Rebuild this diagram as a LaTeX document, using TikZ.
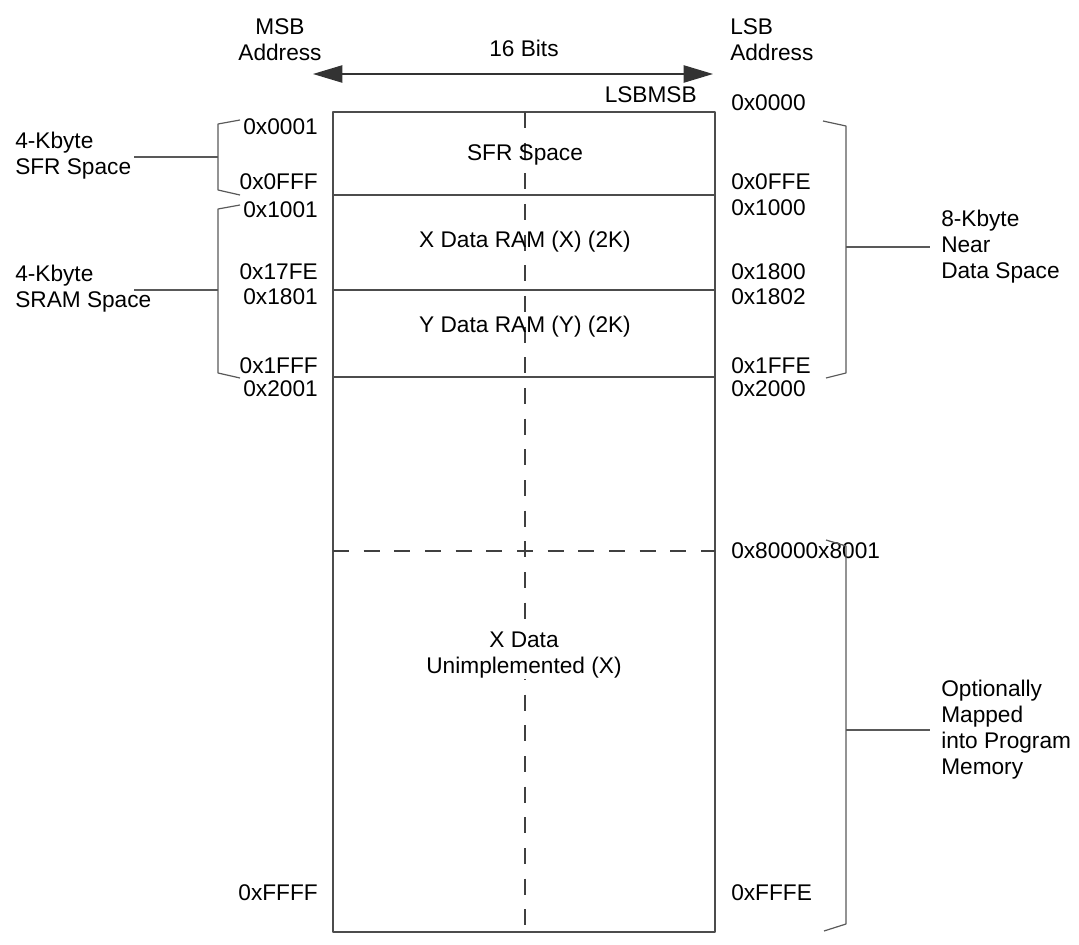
\documentclass[tikz,border=0pt]{standalone}
\usepackage{fontspec}
\setmainfont{Liberation Sans}
\usetikzlibrary{arrows.meta}
\tikzset{
  every picture/.style={line join=round, >=Stealth},
  memline/.style={draw=black!70, line width=0.9pt},
  split/.style={draw=black!75, line width=0.9pt, dash pattern=on 12pt off 11pt},
  brace/.style={draw=black!65, line width=0.9pt},
  addr/.style={inner sep=0pt, font=\fontsize{17}{19.5}\selectfont},
  lbl/.style={addr, align=left},
}
\begin{document}
\begin{tikzpicture}[x=0.75pt,y=-0.75pt]
\useasboundingbox (0,0) rectangle (1079,945);
% memory block
\coordinate (tl) at (333,112);
\coordinate (br) at (715,932);
\draw[memline] (tl) rectangle (br);
\foreach \y in {195,290,377} \draw[memline] (333,\y) -- (715,\y);
\draw[split] (333,551) -- (715,551);
\draw[split] (525,112) -- (525,932);
% word width
\node[addr] (bits) at (524,48) {16 Bits};
\coordinate (wl) at (313,74);
\coordinate (wr) at (713,74);
\draw[{Triangle[length=22pt,width=13pt]}-{Triangle[length=22pt,width=13pt]}, draw=black!80, fill=black, line width=0.9pt] (wl) -- (wr);
\node[addr, anchor=east] (order) at (697,95) {LSBMSB};
\node[addr, align=center] (msbhd) at (280,40) {MSB\\Address};
\node[addr, align=left, anchor=west] (lsbhd) at (730,40) {LSB\\Address};
% regions
\node[addr] (sfr) at (525,155) {SFR Space};
\node[addr] (xram) at (525,242) {X Data RAM (X) (2K)};
\node[addr] (yram) at (525,327) {Y Data RAM (Y) (2K)};
\node[addr, align=center, fill=white, inner sep=1pt] (xunimp) at (524,655) {X Data\\Unimplemented (X)};
% MSB addresses
\foreach \y/\t in {127/0x0001, 182/0x0FFF, 210/0x1001, 272/0x17FE, 297/0x1801, 366/0x1FFF, 389/0x2001, 893/0xFFFF}
  \node[addr, anchor=east] at (318,\y) {\t};
% LSB addresses
\foreach \y/\t in {103/0x0000, 182/0x0FFE, 208/0x1000, 272/0x1800, 297/0x1802, 366/0x1FFE, 389/0x2000, 551/0x80000x8001, 893/0xFFFE}
  \node[addr, anchor=west] at (731,\y) {\t};
% left brackets
\node[lbl, anchor=west] (sfrsp) at (15,156) {4-Kbyte\\SFR Space};
\node[lbl, anchor=west] (sramsp) at (15,289) {4-Kbyte\\SRAM Space};
\coordinate (sfrtip) at (218,157);
\coordinate (sramtip) at (218,290);
\draw[brace] (240,120) -- (218,124) -- (218,190) -- (240,195);
\draw[brace] (134,157) -- (sfrtip);
\draw[brace] (240,205) -- (218,209) -- (218,373) -- (240,378);
\draw[brace] (134,290) -- (sramtip);
% right brackets
\node[lbl, anchor=west] (nearsp) at (941,247) {8-Kbyte\\Near\\Data Space};
\node[lbl, anchor=west] (mapped) at (941,730) {Optionally\\Mapped\\into Program\\Memory};
\coordinate (neartip) at (846,247);
\coordinate (maptip) at (846,730);
\draw[brace] (823,121) -- (846,126) -- (846,373) -- (826,378);
\draw[brace] (neartip) -- (930,247);
\draw[brace] (826,540) -- (846,546) -- (846,924) -- (824,931);
\draw[brace] (maptip) -- (930,730);
\end{tikzpicture}
\end{document}
